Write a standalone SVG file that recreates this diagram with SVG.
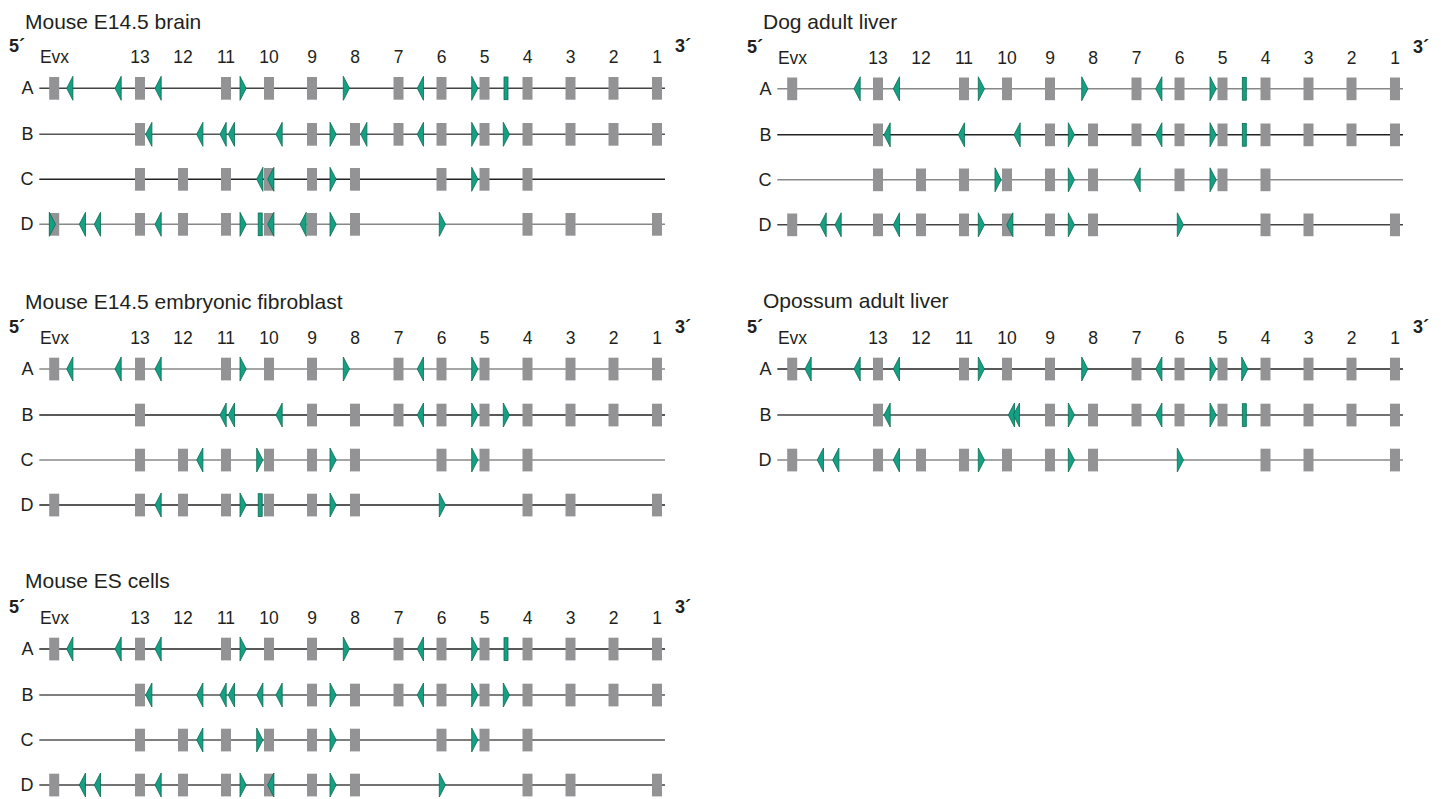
<svg xmlns="http://www.w3.org/2000/svg" xmlns:xlink="http://www.w3.org/1999/xlink" width="1445" height="799" viewBox="0 0 1445 799">
<style>
text{font-family:"Liberation Sans",Arial,sans-serif;fill:#231f20}
.ti{font-size:21px}
.pr{font-size:18px;font-weight:bold}
.cl{font-size:17.5px;text-anchor:middle}
.rl{font-size:18px;text-anchor:end}
.bx{fill:#939396}
.t{fill:#13a085;stroke:#0b6b4e;stroke-width:0.8}
.k1{stroke:#222;stroke-width:1.4;fill:none}
.k2{stroke:#444;stroke-width:1.4;fill:none}
.k3{stroke:#555;stroke-width:1.4;fill:none}
.k4{stroke:#888;stroke-width:1.4;fill:none}
</style>
<defs>
<path id="L" d="M0,0 L6.2,-12 L6.2,12 Z"/>
<path id="R" d="M0,-12 L6.2,0 L0,12 Z"/>
<rect id="b" x="-5" y="-11.3" width="10" height="22.7"/>
<rect id="g" x="0" y="-11.3" width="4" height="22.7"/>
<g id="hdr">
<text class="pr" x="9" y="52" font-size="18">5´</text>
<text class="cl" x="54.5" y="63.3">Evx</text>
<text class="cl" x="140" y="63.3">13</text>
<text class="cl" x="183" y="63.3">12</text>
<text class="cl" x="226" y="63.3">11</text>
<text class="cl" x="269" y="63.3">10</text>
<text class="cl" x="312" y="63.3">9</text>
<text class="cl" x="355" y="63.3">8</text>
<text class="cl" x="398.5" y="63.3">7</text>
<text class="cl" x="441.5" y="63.3">6</text>
<text class="cl" x="484.5" y="63.3">5</text>
<text class="cl" x="527.5" y="63.3">4</text>
<text class="cl" x="570.5" y="63.3">3</text>
<text class="cl" x="613.5" y="63.3">2</text>
<text class="cl" x="657" y="63.3">1</text>
<text class="pr" x="675" y="52" font-size="18">3´</text>
</g>
<g id="bA" class="bx">
<use href="#b" x="54.2"/><use href="#b" x="140"/><use href="#b" x="226"/><use href="#b" x="269"/><use href="#b" x="312"/><use href="#b" x="398.5"/><use href="#b" x="441.5"/><use href="#b" x="484.5"/><use href="#b" x="527.5"/><use href="#b" x="570.5"/><use href="#b" x="613.5"/><use href="#b" x="657"/>
</g>
<g id="bB" class="bx">
<use href="#b" x="140"/><use href="#b" x="312"/><use href="#b" x="355"/><use href="#b" x="398.5"/><use href="#b" x="441.5"/><use href="#b" x="484.5"/><use href="#b" x="527.5"/><use href="#b" x="570.5"/><use href="#b" x="613.5"/><use href="#b" x="657"/>
</g>
<g id="bC" class="bx">
<use href="#b" x="140"/><use href="#b" x="183"/><use href="#b" x="226"/><use href="#b" x="269"/><use href="#b" x="312"/><use href="#b" x="355"/><use href="#b" x="441.5"/><use href="#b" x="484.5"/><use href="#b" x="527.5"/>
</g>
<g id="bD" class="bx">
<use href="#b" x="54.2"/><use href="#b" x="140"/><use href="#b" x="183"/><use href="#b" x="226"/><use href="#b" x="269"/><use href="#b" x="312"/><use href="#b" x="355"/><use href="#b" x="527.5"/><use href="#b" x="570.5"/><use href="#b" x="657"/>
</g>
</defs>
<rect width="1445" height="799" fill="#fff"/>

<!-- Panel 1: Mouse E14.5 brain -->
<g id="brain">
<text class="ti" x="25" y="29.3">Mouse E14.5 brain</text>
<use href="#hdr"/>
<g id="connectors-brain">
<line class="k2" x1="39.3" y1="88.3" x2="665" y2="88.3"/>
<line class="k3" x1="39.3" y1="134.3" x2="665" y2="134.3"/>
<line class="k1" x1="39.3" y1="179.3" x2="665" y2="179.3"/>
<line class="k4" x1="39.3" y1="224.3" x2="665" y2="224.3"/>
</g>
<g id="brain-A" transform="translate(0,88.3)">
<text class="rl" x="33.5" y="6">A</text>
<use href="#bA"/>
<g class="t"><use href="#L" x="66.7"/><use href="#L" x="115"/><use href="#L" x="155"/><use href="#R" x="240"/><use href="#R" x="343.3"/><use href="#L" x="417.3"/><use href="#R" x="471.7"/><use href="#g" x="504"/></g>
</g>
<g id="brain-B" transform="translate(0,134.3)">
<text class="rl" x="33.5" y="6">B</text>
<use href="#bB"/>
<g class="t"><use href="#L" x="145.7"/><use href="#L" x="196.7"/><use href="#L" x="220"/><use href="#L" x="228.3"/><use href="#L" x="276"/><use href="#R" x="330"/><use href="#L" x="360.7"/><use href="#L" x="417.3"/><use href="#R" x="471.7"/><use href="#R" x="503.3"/></g>
</g>
<g id="brain-C" transform="translate(0,179.3)">
<text class="rl" x="33.5" y="6">C</text>
<use href="#bC"/>
<g class="t"><use href="#L" x="256.7"/><use href="#L" x="267.7"/><use href="#R" x="330"/><use href="#R" x="471.7"/></g>
</g>
<g id="brain-D" transform="translate(0,224.3)">
<text class="rl" x="33.5" y="6">D</text>
<use href="#bD"/>
<g class="t"><use href="#R" x="49.3"/><use href="#L" x="79.3"/><use href="#L" x="94.3"/><use href="#L" x="155"/><use href="#R" x="240"/><use href="#g" x="258.2"/><use href="#L" x="267.7"/><use href="#L" x="300"/><use href="#R" x="330"/><use href="#R" x="439.3"/></g>
</g>
</g>

<!-- Panel 2: Dog adult liver -->
<g id="dog" transform="translate(738,0.5)">
<text class="ti" x="25" y="28">Dog adult liver</text>
<use href="#hdr"/>
<g id="connectors-dog">
<line class="k4" x1="39.3" y1="88.3" x2="665" y2="88.3"/>
<line class="k1" x1="39.3" y1="134.3" x2="665" y2="134.3"/>
<line class="k4" x1="39.3" y1="179.3" x2="665" y2="179.3"/>
<line class="k2" x1="39.3" y1="224.3" x2="665" y2="224.3"/>
</g>
<g id="dog-A" transform="translate(0,88.3)">
<text class="rl" x="33.5" y="6">A</text>
<use href="#bA"/>
<g class="t"><use href="#L" x="116"/><use href="#L" x="155.3"/><use href="#R" x="240.3"/><use href="#R" x="343.7"/><use href="#L" x="417.7"/><use href="#R" x="472"/><use href="#g" x="504.3"/></g>
</g>
<g id="dog-B" transform="translate(0,134.3)">
<text class="rl" x="33.5" y="6">B</text>
<use href="#bB"/>
<g class="t"><use href="#L" x="146"/><use href="#L" x="220.3"/><use href="#L" x="276"/><use href="#R" x="330.3"/><use href="#L" x="417.7"/><use href="#R" x="472"/><use href="#g" x="504.3"/></g>
</g>
<g id="dog-C" transform="translate(0,179.3)">
<text class="rl" x="33.5" y="6">C</text>
<use href="#bC"/>
<g class="t"><use href="#R" x="257"/><use href="#R" x="330.3"/><use href="#L" x="396"/><use href="#R" x="472"/></g>
</g>
<g id="dog-D" transform="translate(0,224.3)">
<text class="rl" x="33.5" y="6">D</text>
<use href="#bD"/>
<g class="t"><use href="#L" x="82"/><use href="#L" x="97"/><use href="#L" x="155.3"/><use href="#R" x="240.3"/><use href="#L" x="268.7"/><use href="#R" x="330.3"/><use href="#R" x="439.3"/></g>
</g>
</g>

<!-- Panel 3: Mouse E14.5 embryonic fibroblast -->
<g id="fibroblast" transform="translate(0,280.7)">
<text class="ti" x="25" y="28.6">Mouse E14.5 embryonic fibroblast</text>
<use href="#hdr"/>
<g id="connectors-fibroblast">
<line class="k4" x1="39.3" y1="88.3" x2="665" y2="88.3"/>
<line class="k1" x1="39.3" y1="134.3" x2="665" y2="134.3"/>
<line class="k4" x1="39.3" y1="179.3" x2="665" y2="179.3"/>
<line class="k1" x1="39.3" y1="224.3" x2="665" y2="224.3"/>
</g>
<g id="fib-A" transform="translate(0,88.3)">
<text class="rl" x="33.5" y="6">A</text>
<use href="#bA"/>
<g class="t"><use href="#L" x="66.7"/><use href="#L" x="115"/><use href="#L" x="155"/><use href="#R" x="240"/><use href="#R" x="343.3"/><use href="#L" x="417.3"/><use href="#R" x="471.7"/></g>
</g>
<g id="fib-B" transform="translate(0,134.3)">
<text class="rl" x="33.5" y="6">B</text>
<use href="#bB"/>
<g class="t"><use href="#L" x="220"/><use href="#L" x="228.3"/><use href="#L" x="276"/><use href="#L" x="417.3"/><use href="#R" x="471.7"/><use href="#R" x="503.3"/></g>
</g>
<g id="fib-C" transform="translate(0,179.3)">
<text class="rl" x="33.5" y="6">C</text>
<use href="#bC"/>
<g class="t"><use href="#L" x="196.7"/><use href="#R" x="256.7"/><use href="#R" x="330"/><use href="#R" x="471.7"/></g>
</g>
<g id="fib-D" transform="translate(0,224.3)">
<text class="rl" x="33.5" y="6">D</text>
<use href="#bD"/>
<g class="t"><use href="#L" x="155"/><use href="#R" x="240"/><use href="#g" x="258.2"/><use href="#R" x="330"/><use href="#R" x="439.3"/></g>
</g>
</g>

<!-- Panel 4: Opossum adult liver -->
<g id="opossum" transform="translate(738,280.7)">
<text class="ti" x="25" y="27.6">Opossum adult liver</text>
<use href="#hdr"/>
<g id="connectors-opossum">
<line class="k1" x1="39.3" y1="88.3" x2="665" y2="88.3"/>
<line class="k2" x1="39.3" y1="134.3" x2="665" y2="134.3"/>
<line class="k4" x1="39.3" y1="179.3" x2="665" y2="179.3"/>
</g>
<g id="opo-A" transform="translate(0,88.3)">
<text class="rl" x="33.5" y="6">A</text>
<use href="#bA"/>
<g class="t"><use href="#L" x="67"/><use href="#L" x="116"/><use href="#L" x="155.3"/><use href="#R" x="240.3"/><use href="#R" x="343.7"/><use href="#L" x="417.7"/><use href="#R" x="472"/><use href="#R" x="503.7"/></g>
</g>
<g id="opo-B" transform="translate(0,134.3)">
<text class="rl" x="33.5" y="6">B</text>
<use href="#bB"/>
<g class="t"><use href="#L" x="146"/><use href="#L" x="270.3"/><use href="#L" x="275.3"/><use href="#R" x="330.3"/><use href="#L" x="417.7"/><use href="#R" x="472"/><use href="#g" x="504.3"/></g>
</g>
<g id="opo-D" transform="translate(0,179.3)">
<text class="rl" x="33.5" y="6">D</text>
<use href="#bD"/>
<g class="t"><use href="#L" x="79.3"/><use href="#L" x="94.7"/><use href="#L" x="155.3"/><use href="#R" x="240.3"/><use href="#R" x="330.3"/><use href="#R" x="439.3"/></g>
</g>
</g>

<!-- Panel 5: Mouse ES cells -->
<g id="es" transform="translate(0,560.7)">
<text class="ti" x="25" y="27.6">Mouse ES cells</text>
<use href="#hdr"/>
<g id="connectors-es">
<line class="k1" x1="39.3" y1="88.3" x2="665" y2="88.3"/>
<line class="k3" x1="39.3" y1="134.3" x2="665" y2="134.3"/>
<line class="k3" x1="39.3" y1="179.3" x2="665" y2="179.3"/>
<line class="k2" x1="39.3" y1="224.3" x2="665" y2="224.3"/>
</g>
<g id="es-A" transform="translate(0,88.3)">
<text class="rl" x="33.5" y="6">A</text>
<use href="#bA"/>
<g class="t"><use href="#L" x="66.7"/><use href="#L" x="115"/><use href="#L" x="155"/><use href="#R" x="240"/><use href="#R" x="343.3"/><use href="#L" x="417.3"/><use href="#R" x="471.7"/><use href="#g" x="504"/></g>
</g>
<g id="es-B" transform="translate(0,134.3)">
<text class="rl" x="33.5" y="6">B</text>
<use href="#bB"/>
<g class="t"><use href="#L" x="145.7"/><use href="#L" x="196.7"/><use href="#L" x="220"/><use href="#L" x="228.3"/><use href="#L" x="256.7"/><use href="#L" x="276"/><use href="#R" x="330"/><use href="#L" x="417.3"/><use href="#R" x="471.7"/><use href="#R" x="503.3"/></g>
</g>
<g id="es-C" transform="translate(0,179.3)">
<text class="rl" x="33.5" y="6">C</text>
<use href="#bC"/>
<g class="t"><use href="#L" x="196.7"/><use href="#R" x="256.7"/><use href="#R" x="330"/><use href="#R" x="471.7"/></g>
</g>
<g id="es-D" transform="translate(0,224.3)">
<text class="rl" x="33.5" y="6">D</text>
<use href="#bD"/>
<g class="t"><use href="#L" x="79.3"/><use href="#L" x="94.3"/><use href="#L" x="155"/><use href="#R" x="240"/><use href="#L" x="267.7"/><use href="#R" x="330"/><use href="#R" x="439.3"/></g>
</g>
</g>
</svg>
